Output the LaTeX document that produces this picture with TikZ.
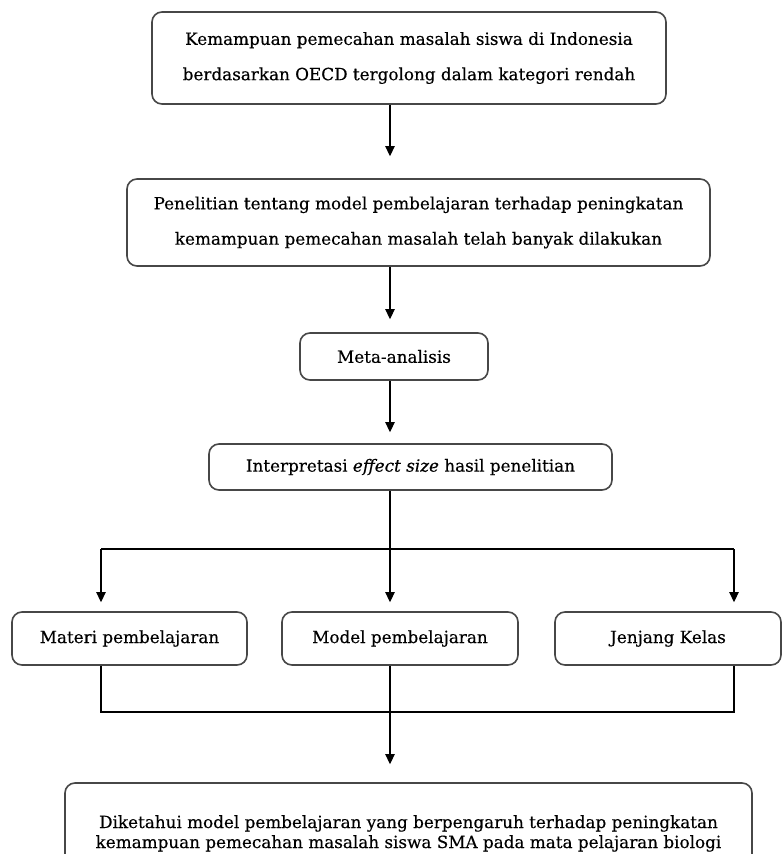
\documentclass[tikz,border=0pt]{standalone}
\usepackage{fontspec}
\setmainfont{DejaVu Serif}[UprightFeatures={FakeBold=0.35},ItalicFeatures={FakeBold=0.35}]
\usetikzlibrary{arrows.meta}
\begin{document}
\begin{tikzpicture}[x=0.75pt,y=-0.75pt,
  box/.style={draw=black!72, line width=1.2pt, rounded corners=7.5pt, align=center, inner sep=0pt,
    font=\fontsize{12.6}{26.5}\selectfont},
  smallbox/.style={box, font=\fontsize{12.6}{15}\selectfont},
  conn/.style={draw=black, line width=0.9pt},
  arr/.style={conn, -{Triangle[length=7.5pt,width=7pt]}}]
\useasboundingbox (0,0) rectangle (782,854);
\clip (0,0) rectangle (782,854);
\fill[white] (0,0) rectangle (782,854);
% boxes
\node[box, minimum width=514*0.75pt, minimum height=92*0.75pt] (A) at (409,58)
  {Kemampuan pemecahan masalah siswa di Indonesia\\berdasarkan OECD tergolong dalam kategori rendah};
\node[box, minimum width=583*0.75pt, minimum height=87*0.75pt] (B) at (418.5,222.5)
  {Penelitian tentang model pembelajaran terhadap peningkatan\\kemampuan pemecahan masalah telah banyak dilakukan};
\node[smallbox, minimum width=188*0.75pt, minimum height=47*0.75pt] (M) at (394,356.5) {Meta-analisis};
\node[smallbox, minimum width=403*0.75pt, minimum height=46*0.75pt] (I) at (410.5,467)
  {Interpretasi \textit{effect size} hasil penelitian};
\node[smallbox, minimum width=235*0.75pt, minimum height=53*0.75pt] (R1) at (129.5,638.5) {Materi pembelajaran};
\node[smallbox, minimum width=236*0.75pt, minimum height=53*0.75pt] (R2) at (400,638.5) {Model pembelajaran};
\node[smallbox, minimum width=226*0.75pt, minimum height=53*0.75pt] (R3) at (668,638.5) {Jenjang Kelas};
\node[smallbox, minimum width=687*0.75pt, minimum height=102*0.75pt] (F) at (408.5,834)
  {\begin{tabular}{@{}c@{}}Diketahui model pembelajaran yang berpengaruh terhadap peningkatan\\kemampuan pemecahan masalah siswa SMA pada mata pelajaran biologi\end{tabular}};
% helper coordinates
\coordinate (cx) at (390,0);
\coordinate (lx) at (101,0);
\coordinate (rx) at (734,0);
\coordinate (sy) at (0,549);
\coordinate (my) at (0,712);
% connectors
\draw[arr, shorten >=22*0.75pt] (A.south -| cx) -- (B.north -| cx);
\draw[arr, shorten >=13*0.75pt] (B.south -| cx) -- (M.north -| cx);
\draw[arr, shorten >=11*0.75pt] (M.south -| cx) -- (I.north -| cx);
\draw[arr, shorten >=9*0.75pt] (I.south -| cx) -- (R2.north -| cx);
\draw[conn] (lx |- sy) -- (rx |- sy);
\draw[arr, shorten >=9*0.75pt] (lx |- sy) -- (R1.north -| lx);
\draw[arr, shorten >=9*0.75pt] (rx |- sy) -- (R3.north -| rx);
\draw[conn] (R1.south -| lx) -- (lx |- my) -- (rx |- my) -- (R3.south -| rx);
\draw[conn] (R2.south -| cx) -- (cx |- my);
\draw[arr, shorten >=18*0.75pt] (cx |- my) -- (F.north -| cx);
\end{tikzpicture}
\end{document}
